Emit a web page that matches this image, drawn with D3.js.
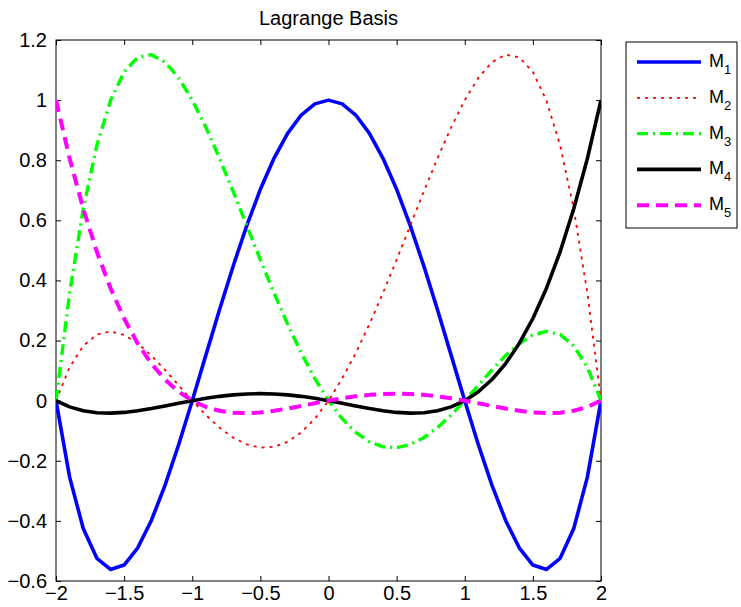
<!DOCTYPE html>
<html><head><meta charset="utf-8">
<script src="https://cdn.jsdelivr.net/npm/d3@7"></script>
<style>body{margin:0;background:#fff;} svg{display:block;font-family:"Liberation Sans",Arial,sans-serif;}</style>
</head><body><svg id="c" width="741" height="607"></svg>
<script>
const xs = [-2,-1.9,-1.8,-1.7,-1.6,-1.5,-1.4,-1.3,-1.2,-1.1,-1,-0.9,-0.8,-0.7,-0.6,-0.5,-0.4,-0.3,-0.2,-0.1,0,0.1,0.2,0.3,0.4,0.5,0.6,0.7,0.8,0.9,1,1.1,1.2,1.3,1.4,1.5,1.6,1.7,1.8,1.9,2];
const m1 = [0,-0.2545,-0.4256,-0.5245,-0.5616,-0.5469,-0.4896,-0.3985,-0.2816,-0.1465,0,0.1515,0.3024,0.4475,0.5824,0.7031,0.8064,0.8895,0.9504,0.9875,1,0.9875,0.9504,0.8895,0.8064,0.7031,0.5824,0.4475,0.3024,0.1515,0,-0.1465,-0.2816,-0.3985,-0.4896,-0.5469,-0.5616,-0.5245,-0.4256,-0.2545,0];
const m2 = [0,0.1112,0.1824,0.2202,0.2304,0.2188,0.1904,0.1502,0.1024,0.0512,0,-0.0479,-0.0896,-0.1229,-0.1456,-0.1563,-0.1536,-0.1369,-0.1056,-0.0599,0,0.0732,0.1584,0.2542,0.3584,0.4688,0.5824,0.6962,0.8064,0.9092,1,1.0742,1.1264,1.1512,1.1424,1.0938,0.9984,0.8492,0.6384,0.3582,0];
const m3 = [0,0.3582,0.6384,0.8492,0.9984,1.0938,1.1424,1.1512,1.1264,1.0742,1,0.9092,0.8064,0.6962,0.5824,0.4688,0.3584,0.2542,0.1584,0.0732,0,-0.0599,-0.1056,-0.1369,-0.1536,-0.1563,-0.1456,-0.1229,-0.0896,-0.0479,0,0.0512,0.1024,0.1502,0.1904,0.2188,0.2304,0.2202,0.1824,0.1112,0];
const m4 = [0,-0.0207,-0.0336,-0.0402,-0.0416,-0.0391,-0.0336,-0.0262,-0.0176,-0.0087,0,0.0078,0.0144,0.0193,0.0224,0.0234,0.0224,0.0193,0.0144,0.0078,0,-0.0087,-0.0176,-0.0262,-0.0336,-0.0391,-0.0416,-0.0402,-0.0336,-0.0207,0,0.0298,0.0704,0.1233,0.1904,0.2734,0.3744,0.4953,0.6384,0.8058,1];
const m5 = [1,0.8058,0.6384,0.4953,0.3744,0.2734,0.1904,0.1233,0.0704,0.0298,0,-0.0207,-0.0336,-0.0402,-0.0416,-0.0391,-0.0336,-0.0262,-0.0176,-0.0087,0,0.0078,0.0144,0.0193,0.0224,0.0234,0.0224,0.0193,0.0144,0.0078,0,-0.0087,-0.0176,-0.0262,-0.0336,-0.0391,-0.0416,-0.0402,-0.0336,-0.0207,0];
const xTicks = [-2,-1.5,-1,-0.5,0,0.5,1,1.5,2];
const yTicks = [-0.6,-0.4,-0.2,0,0.2,0.4,0.6,0.8,1,1.2];
const names = ["1","2","3","4","5"];
const title = "Lagrange Basis";

const series = [
  {sub:names[0], v:m1, color:"#0000ff", w:3.6, dash:null},
  {sub:names[1], v:m2, color:"#ff0000", w:1.8, dash:"3,5"},
  {sub:names[2], v:m3, color:"#00ff00", w:3.4, dash:"11,5,2,5"},
  {sub:names[3], v:m4, color:"#000000", w:3.6, dash:null},
  {sub:names[4], v:m5, color:"#ff00ff", w:4, dash:"12,7"}
];

const L=56, R=601, T=40, B=581;
const svg = d3.select("#c");
const x = d3.scaleLinear().domain([-2,2]).range([L,R]);
const y = d3.scaleLinear().domain([-0.6,1.2]).range([B,T]);

svg.append("defs").append("clipPath").attr("id","clip").append("rect")
  .attr("x",L).attr("y",T).attr("width",R-L).attr("height",B-T);

const fmt = d => d3.format("")(d).replace("-","\u2212");
const gBottom = svg.append("g").attr("transform",`translate(0,${B})`)
  .call(d3.axisBottom(x).tickValues(xTicks).tickSizeInner(-5).tickSizeOuter(0).tickPadding(9).tickFormat(fmt));
const gTop = svg.append("g").attr("transform",`translate(0,${T})`)
  .call(d3.axisTop(x).tickValues(xTicks).tickSizeInner(-5).tickSizeOuter(0).tickFormat(""));
const gLeft = svg.append("g").attr("transform",`translate(${L},0)`)
  .call(d3.axisLeft(y).tickValues(yTicks).tickSizeInner(-5).tickSizeOuter(0).tickPadding(9).tickFormat(fmt));
const gRight = svg.append("g").attr("transform",`translate(${R},0)`)
  .call(d3.axisRight(y).tickValues(yTicks).tickSizeInner(-5).tickSizeOuter(0).tickFormat(""));
[gBottom,gTop,gLeft,gRight].forEach(g=>{
  g.select(".domain").remove();
  g.selectAll("line").attr("stroke","#000").attr("stroke-width",1);
  g.selectAll("text").attr("font-size",20).attr("fill","#000").attr("font-family","Liberation Sans, Arial, sans-serif");
});
gBottom.selectAll("text").attr("dy","0.71em").attr("y",5);
svg.append("rect").attr("x",L).attr("y",T).attr("width",R-L).attr("height",B-T)
  .attr("fill","none").attr("stroke","#000").attr("stroke-width",1);

const line = d3.line().x((d,i)=>x(xs[i])).y(d=>y(d));
const plot = svg.append("g").attr("clip-path","url(#clip)");
series.forEach(s=>{
  plot.append("path").datum(s.v).attr("d",line).attr("fill","none")
    .attr("stroke",s.color).attr("stroke-width",s.w)
    .attr("stroke-dasharray",s.dash).attr("stroke-linejoin","round");
});

svg.append("text").attr("x",(L+R)/2).attr("y",25).attr("text-anchor","middle")
  .attr("font-size",20).attr("fill","#000").text(title);

const lg = svg.append("g");
lg.append("rect").attr("x",626).attr("y",42).attr("width",111).attr("height",186)
  .attr("fill","#fff").attr("stroke","#000").attr("stroke-width",1);
series.forEach((s,i)=>{
  const yy = 62 + i*35.8;
  lg.append("line").attr("x1",637).attr("x2",701).attr("y1",yy).attr("y2",yy)
    .attr("stroke",s.color).attr("stroke-width",s.w).attr("stroke-dasharray",s.dash);
  const t = lg.append("text").attr("x",709).attr("y",yy+5).attr("font-size",18).attr("fill","#000");
  t.append("tspan").text("M");
  t.append("tspan").attr("font-size",13).attr("dy",7).text(s.sub);
});
</script></body></html>
